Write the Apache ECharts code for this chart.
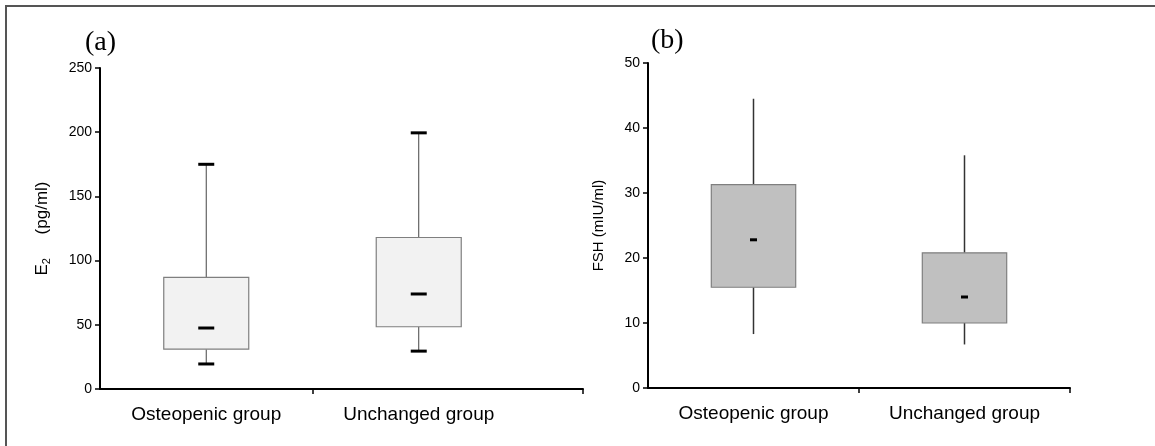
<!DOCTYPE html>
<html>
<head>
<meta charset="utf-8">
<script src="https://cdn.jsdelivr.net/npm/echarts@6/dist/echarts.min.js"></script>
<style>
html,body{margin:0;padding:0;background:#fff;}
#chart{width:1155px;height:446px;}
</style>
</head>
<body>
<div id="chart"></div>
<script>
// ---- data ----
const categories = ['Osteopenic group', 'Unchanged group'];
// [min, Q1, median, Q3, max]
const e2Values = [
  [19.5, 31, 47.5, 87, 175],
  [29.5, 48.5, 74, 118, 199.5]
];
const fshValues = [
  [8.3, 15.5, 22.8, 31.3, 44.5],
  [6.7, 10, 14, 20.8, 35.8]
];
const e2Ticks = [0, 50, 100, 150, 200, 250];
const fshTicks = [0, 10, 20, 30, 40, 50];
const panelLabels = ['(a)', '(b)'];
const yNames = ['{e|E}{s|2}{e|     (pg/ml)}', '{f|FSH (mIU/ml)}'];

const FONT = '"Liberation Sans", Arial, sans-serif';

function toSeriesData(vals) {
  return vals.map((v, i) => [i + 0.5].concat(v));
}

function makeRender(opt) {
  return function (params, api) {
    const x = api.value(0);
    const mn = api.value(1), q1 = api.value(2), md = api.value(3), q3 = api.value(4), mx = api.value(5);
    const bw = api.size([1, 0])[0] * opt.boxFrac;
    const pMin = api.coord([x, mn]);
    const pQ1 = api.coord([x, q1]);
    const pMd = api.coord([x, md]);
    const pQ3 = api.coord([x, q3]);
    const pMax = api.coord([x, mx]);
    const cx = pMd[0];
    const children = [
      { type: 'line', shape: { x1: cx, y1: pMax[1], x2: cx, y2: pQ3[1] }, style: { stroke: opt.whisker, lineWidth: opt.whiskerW } },
      { type: 'line', shape: { x1: cx, y1: pQ1[1], x2: cx, y2: pMin[1] }, style: { stroke: opt.whisker, lineWidth: opt.whiskerW } },
      { type: 'rect', shape: { x: cx - bw / 2, y: pQ3[1], width: bw, height: pQ1[1] - pQ3[1] },
        style: { fill: opt.fill, stroke: '#7f7f7f', lineWidth: 1.2 } },
      { type: 'line', shape: { x1: cx - opt.medW / 2, y1: pMd[1], x2: cx + opt.medW / 2, y2: pMd[1] },
        style: { stroke: '#000', lineWidth: 3 } }
    ];
    if (opt.caps) {
      children.push({ type: 'line', shape: { x1: cx - 8, y1: pMax[1], x2: cx + 8, y2: pMax[1] }, style: { stroke: '#000', lineWidth: 3 } });
      children.push({ type: 'line', shape: { x1: cx - 8, y1: pMin[1], x2: cx + 8, y2: pMin[1] }, style: { stroke: '#000', lineWidth: 3 } });
    }
    return { type: 'group', children: children };
  };
}

function xAxisCfg(gridIndex, max) {
  return {
    type: 'value', gridIndex: gridIndex, min: 0, max: max,
    splitLine: { show: false },
    axisLine: { show: true, lineStyle: { color: '#000', width: 2 } },
    axisTick: { show: true, customValues: [1, max], length: 5, lineStyle: { color: '#000', width: 1.5 } },
    axisLabel: {
      customValues: [0.5, 1.5], margin: 16,
      formatter: v => categories[Math.floor(v)],
      fontFamily: FONT, fontSize: 19, color: '#000'
    }
  };
}

function yAxisCfg(gridIndex, ticks, name, gap) {
  return {
    type: 'value', gridIndex: gridIndex, min: ticks[0], max: ticks[ticks.length - 1],
    interval: ticks[1] - ticks[0],
    name: name, nameLocation: 'middle', nameGap: gap, nameRotate: 90,
    nameTextStyle: {
      fontFamily: FONT, fontSize: 15, color: '#000',
      rich: {
        e: { fontFamily: FONT, fontSize: 17, color: '#000', lineHeight: 20 },
        s: { fontFamily: FONT, fontSize: 11, color: '#000', lineHeight: 20, verticalAlign: 'bottom', padding: [7, 0, 0, 0] },
        f: { fontFamily: FONT, fontSize: 15, color: '#000', lineHeight: 18 }
      }
    },
    splitLine: { show: false },
    axisLine: { show: true, lineStyle: { color: '#000', width: 2 } },
    axisTick: { show: true, length: 5, lineStyle: { color: '#000', width: 1.5 } },
    axisLabel: { fontFamily: FONT, fontSize: 14, color: '#000', margin: 8 }
  };
}

const option = {
  animation: false,
  backgroundColor: '#fff',
  title: [
    { text: panelLabels[0], left: 80, top: 24, textStyle: { fontFamily: '"Liberation Serif", "DejaVu Serif", serif', fontSize: 28, fontWeight: 'normal', color: '#000' } },
    { text: panelLabels[1], left: 646, top: 22, textStyle: { fontFamily: '"Liberation Serif", "DejaVu Serif", serif', fontSize: 28, fontWeight: 'normal', color: '#000' } }
  ],
  graphic: [
    { type: 'rect', shape: { x: 6, y: 6, width: 1170, height: 460 }, style: { fill: null, stroke: '#555', lineWidth: 2 }, silent: true }
  ],
  grid: [
    { left: 100, top: 68, width: 483, height: 321 },
    { left: 648, top: 63, width: 422, height: 325 }
  ],
  xAxis: [xAxisCfg(0, 2.273), xAxisCfg(1, 2.0)],
  yAxis: [yAxisCfg(0, e2Ticks, yNames[0], 48), yAxisCfg(1, fshTicks, yNames[1], 40)],
  series: [
    {
      type: 'custom', xAxisIndex: 0, yAxisIndex: 0,
      renderItem: makeRender({ boxFrac: 0.4, fill: '#f2f2f2', whisker: '#444', whiskerW: 1, medW: 16, caps: true }),
      data: toSeriesData(e2Values), encode: { x: 0, y: [1, 2, 3, 4, 5] }
    },
    {
      type: 'custom', xAxisIndex: 1, yAxisIndex: 1,
      renderItem: makeRender({ boxFrac: 0.4, fill: '#c0c0c0', whisker: '#333', whiskerW: 1.5, medW: 7, caps: false }),
      data: toSeriesData(fshValues), encode: { x: 0, y: [1, 2, 3, 4, 5] }
    }
  ]
};

const chart = echarts.init(document.getElementById('chart'), null, { renderer: 'canvas' });
chart.setOption(option);
</script>
</body>
</html>
